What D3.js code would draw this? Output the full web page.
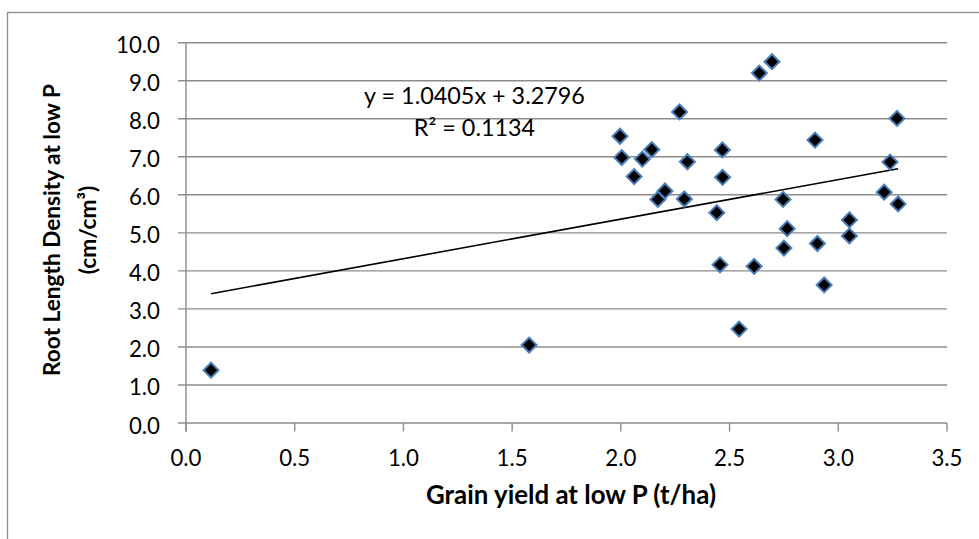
<!DOCTYPE html>
<html>
<head>
<meta charset="utf-8">
<script src="https://cdn.jsdelivr.net/npm/d3@7"></script>
<style>
  html, body { margin: 0; padding: 0; background: #fff; }
  svg { display: block; }
  text { font-family: Lato, "Open Sans", sans-serif; fill: #000; }
</style>
</head>
<body>
<svg id="chart" width="979" height="539"></svg>
<script>
// Grain yield at low P (t/ha)
const grainYield = [0.115, 1.578, 1.996, 2.004, 2.099, 2.142, 2.061, 2.203, 2.170, 2.292, 2.306,
  2.270, 2.467, 2.468, 2.441, 2.456, 2.544, 2.613, 2.637, 2.695, 2.746, 2.765, 2.750, 2.893,
  2.904, 2.935, 3.051, 3.051, 3.211, 3.238, 3.270, 3.275];
// Root length density at low P (cm/cm3)
const rootDensity = [1.39, 2.05, 7.54, 6.98, 6.94, 7.19, 6.48, 6.10, 5.88, 5.89, 6.87,
  8.18, 7.18, 6.46, 5.53, 4.16, 2.47, 4.12, 9.20, 9.50, 5.88, 5.11, 4.60, 7.44,
  4.72, 3.63, 5.34, 4.92, 6.07, 6.86, 8.01, 5.76];
const xTicks = [0, 0.5, 1.0, 1.5, 2.0, 2.5, 3.0, 3.5];
const yTicks = [0, 1, 2, 3, 4, 5, 6, 7, 8, 9, 10];
const trendSlope = 1.0405;
const trendIntercept = 3.2796;
const rSquared = 0.1134;
const xTitle = "Grain yield at low P (t/ha)";
const yTitleLines = ["Root Length Density at low P", "(cm/cm³)"];

const svg = d3.select("#chart");
const gridColor = "#8c8c8c";

const x = d3.scaleLinear().domain([0, 3.5]).range([186, 947]);
const y = d3.scaleLinear().domain([0, 10]).range([423, 42.7]);

// scale a text's font size so that it spans a target width
function fitSize(sel, base, target) {
  sel.style("font-size", base + "px");
  const w = sel.node().getComputedTextLength();
  const s = base * target / w;
  sel.style("font-size", s + "px");
  return s;
}

// outer chart frame (partially visible)
svg.append("rect")
  .attr("x", 7.5).attr("y", 12.5)
  .attr("width", 1200).attr("height", 800)
  .attr("fill", "none").attr("stroke", gridColor).attr("stroke-width", 1.3);

// horizontal gridlines + y ticks
svg.append("g").selectAll("line").data(yTicks).join("line")
  .attr("x1", 178).attr("x2", x(3.5))
  .attr("y1", d => y(d)).attr("y2", d => y(d))
  .attr("stroke", gridColor).attr("stroke-width", 1.4);

// y axis line
svg.append("line")
  .attr("x1", x(0)).attr("x2", x(0))
  .attr("y1", y(10)).attr("y2", y(0) + 8.5)
  .attr("stroke", gridColor).attr("stroke-width", 1.4);

// x ticks
svg.append("g").selectAll("line").data(xTicks).join("line")
  .attr("x1", d => x(d)).attr("x2", d => x(d))
  .attr("y1", y(0)).attr("y2", y(0) + 8.5)
  .attr("stroke", gridColor).attr("stroke-width", 1.4);

// tick label size: "10.0" spans ~44px
const probe = svg.append("text").text("10.0");
const tickSize = fitSize(probe, 21, 44);
probe.remove();

// y tick labels
svg.append("g").selectAll("text").data(yTicks).join("text")
  .attr("x", 160).attr("y", d => y(d) + 2)
  .attr("text-anchor", "end").attr("dominant-baseline", "central")
  .style("font-size", tickSize + "px")
  .text(d => d3.format(".1f")(d));

// x tick labels
svg.append("g").selectAll("text").data(xTicks).join("text")
  .attr("x", d => x(d)).attr("y", 466)
  .attr("text-anchor", "middle")
  .style("font-size", tickSize + "px")
  .text(d => d3.format(".1f")(d));

// axis titles
const xt = svg.append("text")
  .attr("x", 571).attr("y", 504)
  .attr("text-anchor", "middle")
  .style("font-weight", "bold")
  .text(xTitle);
fitSize(xt, 21, 290);

const yTitleX = [51, 87];
const yTitleY = [230, 230];
let ySize = 21;
yTitleLines.forEach((t, i) => {
  const el = svg.append("text")
    .attr("transform", `translate(${yTitleX[i]},${yTitleY[i]}) rotate(-90)`)
    .attr("text-anchor", "middle").attr("dominant-baseline", "central")
    .style("font-weight", "bold")
    .text(t);
  if (i === 0) ySize = fitSize(el, 21, 292);
  else el.style("font-size", ySize + "px");
});

// trend line
const xMin = d3.min(grainYield), xMax = d3.max(grainYield);
svg.append("line")
  .attr("x1", x(xMin)).attr("y1", y(trendSlope * xMin + trendIntercept))
  .attr("x2", x(xMax)).attr("y2", y(trendSlope * xMax + trendIntercept))
  .attr("stroke", "#000").attr("stroke-width", 1.6);

// markers
const pts = grainYield.map((g, i) => ({ gx: g, ry: rootDensity[i] }));
const diamond = d3.symbol().type(d3.symbolSquare).size(112);
svg.append("g").selectAll("path").data(pts).join("path")
  .attr("d", diamond)
  .attr("transform", d => `translate(${x(d.gx)},${y(d.ry)}) rotate(45)`)
  .attr("fill", "#000").attr("stroke", "#4a7ebb").attr("stroke-width", 2);

// equation labels
const eq = svg.append("text")
  .attr("x", 474.5).attr("y", 95)
  .attr("text-anchor", "middle").attr("dominant-baseline", "central")
  .text(`y = ${trendSlope}x + ${trendIntercept}`);
const eqSize = fitSize(eq, 23, 221);
svg.append("text")
  .attr("x", 474.5).attr("y", 127)
  .attr("text-anchor", "middle").attr("dominant-baseline", "central")
  .style("font-size", eqSize + "px")
  .text(`R² = ${rSquared}`);
</script>
</body>
</html>
